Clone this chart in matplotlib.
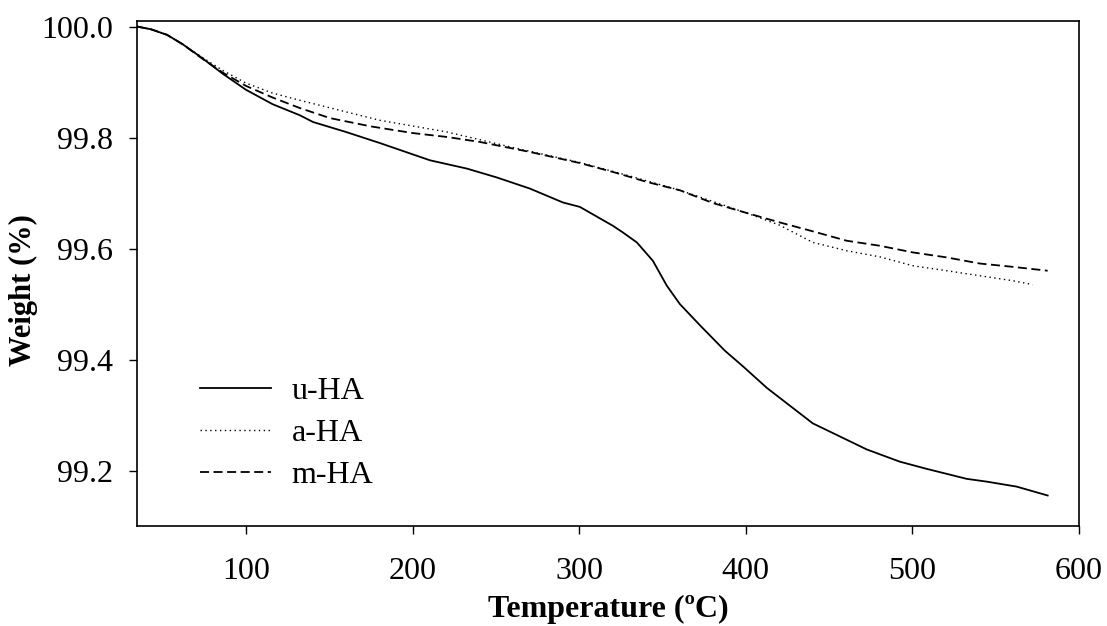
import matplotlib
matplotlib.use("Agg")
import matplotlib.pyplot as plt

plt.rcParams['font.family'] = ['Liberation Serif', 'DejaVu Serif']

# TGA curves
temp_u = [34.6, 43.0, 52.6, 62.0, 72.4, 86.0, 100.0, 116.0, 132.4, 140.2, 160.0, 180.4,
          210.4, 232.6, 250.6, 270.4, 290.2, 300.4, 320.2, 326.2, 334.6, 344.2, 352.6,
          360.4, 372.4, 387.4, 398.2, 412.6, 440.2, 472.6, 492.4, 508.6, 532.6,
          544.6, 562.6, 581.2]
weight_u = [100.000, 99.995, 99.985, 99.968, 99.946, 99.915, 99.886, 99.860, 99.840,
            99.828, 99.810, 99.790, 99.759, 99.744, 99.728, 99.708, 99.683, 99.675,
            99.641, 99.629, 99.611, 99.578, 99.533, 99.500, 99.462, 99.416, 99.388,
            99.349, 99.285, 99.238, 99.216, 99.203, 99.185, 99.180, 99.171, 99.155]

temp_a = [34.6, 43.0, 52.6, 62.0, 72.4, 86.0, 100.0, 116.0, 132.4, 155.0, 180.4, 220.6,
          260.2, 300.4, 330.0, 360.4, 385.0, 404.2, 420.4, 440.2, 460.6, 480.4, 500.2,
          520.6, 540.4, 560.2, 572.2]
weight_a = [100.000, 99.995, 99.985, 99.968, 99.947, 99.921, 99.898, 99.880, 99.867,
            99.850, 99.831, 99.810, 99.782, 99.755, 99.731, 99.705, 99.680, 99.660,
            99.642, 99.611, 99.596, 99.585, 99.569, 99.560, 99.551, 99.542, 99.535]

temp_m = [34.6, 43.0, 52.6, 62.0, 72.4, 86.0, 100.0, 116.0, 132.4, 150.4, 175.0, 200.2,
          220.6, 240.4, 270.4, 300.4, 320.2, 340.6, 360.4, 380.2, 400.6, 420.4, 440.2,
          460.6, 480.4, 500.2, 520.6, 540.4, 560.2, 581.2]
weight_m = [100.000, 99.995, 99.985, 99.968, 99.945, 99.917, 99.893, 99.872, 99.853,
            99.835, 99.820, 99.808, 99.801, 99.792, 99.774, 99.754, 99.738, 99.720,
            99.705, 99.682, 99.664, 99.647, 99.631, 99.614, 99.605, 99.593, 99.584,
            99.573, 99.567, 99.560]

x_ticks = [100, 200, 300, 400, 500, 600]
y_ticks = [99.2, 99.4, 99.6, 99.8, 100.0]

fig = plt.figure(figsize=(11.07, 6.26), dpi=100)
ax = fig.add_axes([0.1238, 0.1597, 0.8509, 0.8068])

ax.plot(temp_u, weight_u, color='black', lw=1.3, label='u-HA')
ax.plot(temp_a, weight_a, color='black', lw=1.0, linestyle=(0, (1, 2.5)), label='a-HA')
ax.plot(temp_m, weight_m, color='black', lw=1.3, linestyle=(0, (5, 2.5)), label='m-HA')

ax.set_xlim(34.6, 600)
ax.set_ylim(99.1, 100.01)
ax.set_xticks(x_ticks)
ax.set_yticks(y_ticks)
ax.set_yticklabels([f'{v:.1f}' for v in y_ticks])
ax.tick_params(axis='both', direction='out', length=5.5, width=1, labelsize=23)
ax.tick_params(axis='x', pad=17)
ax.tick_params(axis='y', pad=12)
for s in ax.spines.values():
    s.set_linewidth(1.2)

ax.set_xlabel('Temperature (ºC)', fontsize=23, fontweight='bold', labelpad=6)
ax.set_ylabel('Weight (%)', fontsize=22, fontweight='bold')
ax.yaxis.set_label_coords(-0.105, 0.467)

ax.legend(loc='upper left', bbox_to_anchor=(0.036, 0.353), frameon=False, fontsize=23,
          handlelength=2.22, handletextpad=0.66, labelspacing=0.4)

fig.savefig('out.png', dpi=100)
